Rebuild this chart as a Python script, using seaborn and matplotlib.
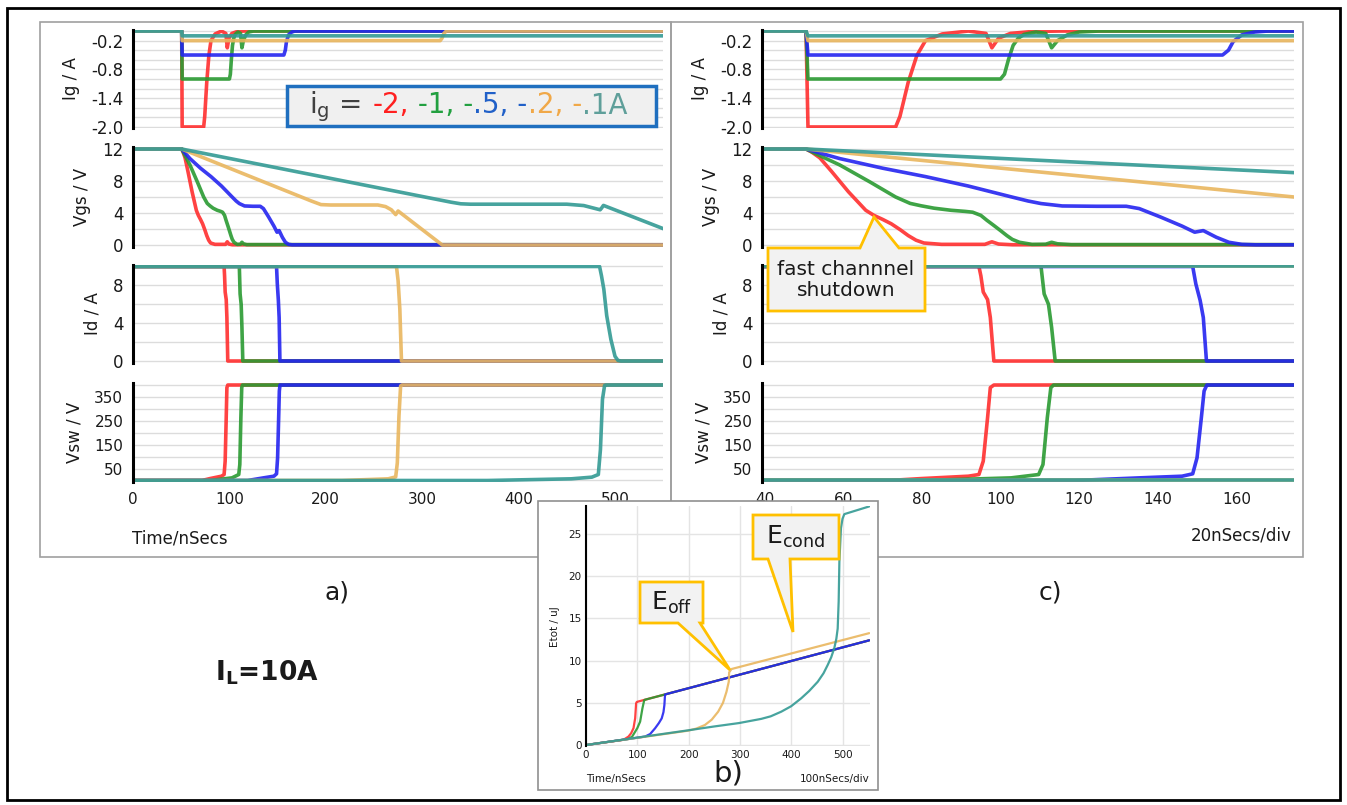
import numpy as np
import pandas as pd
import matplotlib
matplotlib.use("Agg")
import matplotlib.pyplot as plt
import seaborn as sns
from matplotlib.patches import Rectangle, Polygon
from matplotlib.offsetbox import TextArea, HPacker, AnchoredOffsetbox

sns.set_style("white")
plt.rcParams["font.family"] = ["DejaVu Sans"]
plt.rcParams["mathtext.fontset"] = "dejavusans"

# ---------------- data ----------------
SERIES = ["-2A", "-1A", "-.5A", "-.2A", "-.1A"]
COLORS = ["#ff2e2e", "#2a9a32", "#2424f0", "#e9b65e", "#339a94"]

# gate current Ig (A) : (time ns, value)
ig_red = [(0, 0), (50.5, 0), (51, -2.0), (73.3, -2.0), (74.4, -1.78), (76.5, -1.07), (78.7, -0.51),
          (80.9, -0.2), (85.2, -0.06), (91.8, 0), (96.3, -0.05), (97.8, -0.35), (99.5, -0.15),
          (102.5, -0.05), (108, -0.01), (115, 0), (560, 0)]
ig_green = [(0, 0), (50.5, 0), (51, -1.0), (100, -1.0), (101, -0.9), (102, -0.6), (103.2, -0.3),
            (104.5, -0.15), (106, -0.07), (109, -0.02), (111.5, -0.05), (113, -0.35), (114.5, -0.2),
            (117, -0.08), (120, -0.02), (125, 0), (560, 0)]
ig_blue = [(0, 0), (50.5, 0), (51, -0.5), (156.5, -0.5), (158, -0.4), (159.2, -0.22), (161.4, -0.08),
           (164.7, -0.02), (168, 0), (560, 0)]
ig_orange = [(0, 0), (50.5, 0), (51, -0.2), (318.7, -0.2), (320.5, -0.15), (322.5, -0.05), (325, 0), (560, 0)]
ig_teal = [(0, 0), (50.5, 0), (51, -0.1), (560, -0.1)]

# gate voltage Vgs (V)
vgs_red = [(0, 12), (50.5, 12), (52, 11.6), (54, 10.9), (57, 9.2), (61.3, 6.65), (65.7, 4.34), (67.8, 3.7),
           (70, 3.2), (72.2, 2.65), (74.5, 1.9), (76.5, 1.18), (78.5, 0.6), (80.5, 0.25), (85, 0.08),
           (96, 0.08), (97.8, 0.4), (99.5, 0.12), (103, 0.03), (560, 0.03)]
vgs_green = [(0, 12), (50.5, 12), (53, 11.4), (59.1, 10.0), (66.7, 7.9), (73.3, 6.0), (77, 5.2), (79.8, 4.9),
             (83.1, 4.6), (87.4, 4.34), (91, 4.2), (92.9, 4.1), (95, 3.7), (96.5, 3.1), (98.3, 2.44),
             (100, 1.8), (101.6, 1.18), (103, 0.7), (104.8, 0.34), (108, 0.08), (111.5, 0.1), (113, 0.34),
             (114.5, 0.15), (118, 0.05), (560, 0.03)]
vgs_blue = [(0, 12), (50.5, 12), (54, 11.5), (59.1, 10.8), (70, 9.6), (80.9, 8.55), (91.8, 7.37), (102.7, 6.02),
            (107, 5.5), (110.3, 5.18), (115.7, 4.88), (124.4, 4.84), (132, 4.84), (135.3, 4.55), (140.7, 3.5),
            (146.2, 2.36), (149.4, 1.6), (151.6, 1.8), (154.9, 0.97), (158.1, 0.34), (161.4, 0.08),
            (165, 0.02), (560, 0.02)]
vgs_orange = [(0, 12), (50.5, 12), (185, 5.5), (195, 5.05), (205, 5.0), (254, 5.0), (262, 4.8), (268, 4.4),
              (272.5, 3.8), (275, 4.25), (320.8, 0), (560, 0)]
vgs_teal = [(0, 12), (50.5, 12), (330, 5.35), (340, 5.15), (350, 5.1), (450, 5.1), (467.6, 4.93),
            (484.6, 4.4), (486, 4.6), (488, 4.95), (551.8, 1.96)]

# drain current Id (A)
id_red = [(0, 10), (94.5, 10), (95, 9.0), (95.6, 7.3), (96.7, 6.5), (97.4, 4.6), (98.3, 0), (560, 0)]
id_green = [(0, 10), (110.3, 10), (111.1, 7.1), (112.2, 6.0), (113, 3.55), (113.9, 0), (560, 0)]
id_blue = [(0, 10), (148.9, 10), (149.7, 8.15), (150.8, 6.4), (151.6, 4.6), (152.4, 0), (560, 0)]
id_orange = [(0, 10), (273.3, 10), (275, 8.5), (276.8, 5.5), (278.5, 0), (560, 0)]
id_teal = [(0, 10), (484, 10), (486, 9.0), (488.4, 7.6), (491.4, 4.8), (495.7, 2.3), (500, 0.5),
           (503, 0.07), (506, 0), (560, 0)]

# switch node voltage Vsw (V)
vsw_red = [(0, 0), (71.6, 0), (79.8, 8), (91.8, 18), (94.5, 25), (95.6, 81), (96.7, 263), (97.4, 389),
           (98.3, 400), (560, 400)]
vsw_green = [(0, 0), (79.8, 0), (91.8, 5.6), (102.7, 11), (109.7, 25), (110.8, 67), (111.9, 263),
             (112.8, 389), (113.5, 400), (560, 400)]
vsw_blue = [(0, 0), (119, 0), (135.3, 11), (146.2, 18), (148.9, 28), (150, 95), (151.1, 263), (151.8, 375),
            (152.5, 400), (560, 400)]
vsw_orange = [(0, 0), (217, 0), (264.7, 7), (272.5, 15), (274.2, 74), (275.9, 270), (277.6, 396), (279, 400),
              (560, 400)]
vsw_teal = [(0, 0), (368, 0), (454.7, 7), (476, 14), (482.7, 25), (484.9, 130), (487, 340), (489.2, 398),
            (490.5, 400), (560, 400)]

# total energy Etot (uJ)
e_red = [(0, 0), (73, 0.62), (82.8, 1.0), (88, 1.4), (92.6, 2.0), (95.8, 3.16), (97.7, 4.94), (99, 5.1),
         (101, 5.14), (552, 12.4)]
e_green = [(0, 0), (83, 0.72), (90, 1.0), (95.8, 1.58), (100, 2.0), (105.5, 2.77), (110, 4.35), (113.3, 5.26),
           (114, 5.35), (552, 12.4)]
e_blue = [(0, 0), (115, 1.0), (125, 1.3), (134.6, 1.98), (142, 2.6), (147.6, 3.16), (151, 3.9), (152.8, 4.74),
          (154, 5.93), (154.5, 6.0), (552, 12.4)]
e_orange = [(0, 0), (199, 1.7), (215, 1.95), (231.7, 2.37), (245, 3.0), (257.6, 3.95), (267, 5.0),
            (273.8, 6.3), (278.3, 7.5), (279, 8.6), (283.5, 9.0), (552, 13.25)]
e_teal = [(0, 0), (100, 0.88), (200, 1.75), (250, 2.2), (298, 2.6), (341.7, 3.1), (360, 3.4), (380.6, 3.95),
          (400, 4.6), (419.4, 5.53), (435, 6.4), (451.8, 7.5), (463, 8.5), (471.2, 9.49), (478, 10.4),
          (484.1, 11.5), (488, 12.6), (490.6, 13.8), (492.5, 17), (493.9, 21.7), (497, 25.7), (500, 26.8),
          (503.6, 27.35), (552, 28.26)]

IG = [ig_red, ig_green, ig_blue, ig_orange, ig_teal]
VGS = [vgs_red, vgs_green, vgs_blue, vgs_orange, vgs_teal]
ID = [id_red, id_green, id_blue, id_orange, id_teal]
VSW = [vsw_red, vsw_green, vsw_blue, vsw_orange, vsw_teal]
ETOT = [e_red, e_green, e_blue, e_orange, e_teal]

# ---------------- figure ----------------
W, H = 1347, 805
fig = plt.figure(figsize=(W / 100, H / 100), dpi=100)
INK = "#1a1a1a"


def px_axes(l, t, r, b, z):
    ax = fig.add_axes([l / W, 1 - b / H, (r - l) / W, (b - t) / H], zorder=z)
    ax.set_facecolor("none")
    return ax


def overlay(z):
    ax = fig.add_axes([0, 0, 1, 1], zorder=z)
    ax.set_xlim(0, W)
    ax.set_ylim(H, 0)
    ax.axis("off")
    ax.set_facecolor("none")
    return ax


def to_df(curves):
    rows = []
    for name, pts in zip(SERIES, curves):
        for t, v in pts:
            rows.append((name, t, v))
    return pd.DataFrame(rows, columns=["series", "t", "v"])


def draw(ax, curves, lw, alpha):
    sns.lineplot(data=to_df(curves), x="t", y="v", hue="series", hue_order=SERIES, palette=COLORS,
                 estimator=None, sort=False, lw=lw, alpha=alpha, legend=False, ax=ax)
    ax.set_xlabel("")
    ax.set_ylabel("")


def style(ax, lw_spine=2.2):
    for s in ["top", "right", "bottom"]:
        ax.spines[s].set_visible(False)
    ax.spines["left"].set_color("black")
    ax.spines["left"].set_linewidth(lw_spine)
    ax.set_axisbelow(True)


bg = overlay(0)
# outer border and panel frames
bg.add_patch(Rectangle((7, 8), 1333, 792, fill=False, ec="black", lw=2))
bg.add_patch(Rectangle((40, 22), 631, 535, fill=False, ec="#a0a0a0", lw=1.2))
bg.add_patch(Rectangle((671, 22), 632, 535, fill=False, ec="#a0a0a0", lw=1.2))
bg.text(132, 538, "Time/nSecs", fontsize=12, color=INK, ha="left", va="center")
bg.text(1292, 535, "20nSecs/div", fontsize=12, color=INK, ha="right", va="center")
bg.text(337, 592, "a)", fontsize=18, color=INK, ha="center", va="center")
bg.text(1050, 592, "c)", fontsize=18, color=INK, ha="center", va="center")
bg.text(267, 673, r"$\mathbf{I_L}$=10A", fontsize=19, fontweight="bold", color=INK, ha="center", va="center")

ROWS = [
    (IG, (-2.03, 0.03), [-0.2, -0.8, -1.4, -2.0], ["-0.2", "-0.8", "-1.4", "-2.0"],
     np.arange(-2.0, 0.01, 0.2), "Ig / A", 29.6, 128.4, 12),
    (VGS, (-0.25, 12.25), [0, 4, 8, 12], ["0", "4", "8", "12"], np.arange(0, 12.1, 2), "Vgs / V", 147, 247, 12),
    (ID, (-0.2, 10.2), [0, 4, 8], ["0", "4", "8"], np.arange(0, 10.1, 2), "Id / A", 264.6, 362.9, 12),
    (VSW, (-8, 408), [50, 150, 250, 350], ["50", "150", "250", "350"], np.arange(0, 401, 50), "Vsw / V",
     383.1, 482.4, 11),
]

PANELS = [
    (133, 663.2, (0, 550), [0, 100, 200, 300, 400, 500], [100, 200, 300, 400, 500]),
    (762, 1293.7, (39.3, 174.6), [40, 60, 80, 100, 120, 140, 160], [60, 80, 100, 120, 140, 160]),
]

for (left, right, xlim, xticks, xgrid) in PANELS:
    for i, (curves, ylim, yt, ytl, ymin, ylab, top, bot, tsize) in enumerate(ROWS):
        ax = px_axes(left, top, right, bot, 1)
        draw(ax, curves, 2.6, 0.9)
        ax.set_xlim(*xlim)
        ax.set_ylim(*ylim)
        style(ax)
        ax.set_yticks(yt, ytl)
        ax.set_yticks(ymin, minor=True)
        ax.set_xticks(xgrid, minor=True)
        ax.set_xticks(xticks)
        ax.grid(False)
        ax.yaxis.grid(True, which="both", color="#dcdcdc", lw=1.0)
        ax.xaxis.grid(True, which="minor", color="#c4c4c4", lw=1.0)
        ax.tick_params(axis="both", which="both", length=0, pad=7, colors=INK)
        ax.tick_params(axis="y", labelsize=tsize)
        ax.tick_params(axis="x", labelsize=11)
        ax.set_ylabel(ylab, fontsize=12, color=INK, labelpad=8)
        if i < 3:
            ax.tick_params(axis="x", labelbottom=False)

# ---------------- overlay 1: legend box, callout, b frame ----------------
ov1 = overlay(2)
ov1.add_patch(Rectangle((287, 86), 369, 40, fc="#f0f0f0", ec="#1f6fbf", lw=2.5))
NB = "\u00a0"
parts = [("i$_\\mathregular{g}$" + NB + "=" + NB + NB, "#404040"), ("-2,", "#ff2020"),
         (NB + "-1," + NB + "-", "#22a040"), (".5," + NB + "-", "#2060c8"),
         (".2," + NB + "-", "#f0a848"), (".1A", "#5f9f9a")]
hp = HPacker(children=[TextArea(s, textprops=dict(color=c, fontsize=20)) for s, c in parts],
             align="baseline", pad=0, sep=0)
ab = AnchoredOffsetbox(loc="center", child=hp, pad=0, borderpad=0, frameon=False,
                       bbox_to_anchor=(468 / W, 1 - 107 / H), bbox_transform=fig.transFigure)
ov1.add_artist(ab)


def callout(ax, box, base, tip, side):
    x0, y0, x1, y1 = box
    b0, b1 = base
    if side == "top":
        verts = [(x0, y0), (b0, y0), tip, (b1, y0), (x1, y0), (x1, y1), (x0, y1)]
    else:
        verts = [(x0, y0), (x1, y0), (x1, y1), (b1, y1), tip, (b0, y1), (x0, y1)]
    ax.add_patch(Polygon(verts, closed=True, fc="#f2f2f2", ec="#ffc000", lw=2, joinstyle="miter"))


callout(ov1, (768, 248, 925, 311), (860, 899), (874, 217), "top")
ov1.text(846, 280, "fast channnel\nshutdown", fontsize=14.5, color=INK, ha="center", va="center",
         linespacing=1.15)
ov1.add_patch(Rectangle((538, 501), 340, 289, fc="white", ec="#909090", lw=1.2))

# ---------------- panel b ----------------
axb = px_axes(586, 506.1, 869.7, 746.3, 3)
draw(axb, ETOT, 1.6, 0.9)
axb.set_xlim(0, 553)
axb.set_ylim(-0.15, 28.3)
style(axb, 1.5)
axb.set_xticks([0, 100, 200, 300, 400, 500])
axb.set_yticks([0, 5, 10, 15, 20, 25])
axb.grid(True, color="#e4e4e4", lw=1.0)
axb.tick_params(axis="both", length=0, labelsize=7.5, pad=3, colors=INK)
axb.set_ylabel("Etot / uJ", fontsize=7.5, color=INK, labelpad=6)

ov2 = overlay(4)
ov2.text(586, 779, "Time/nSecs", fontsize=7.5, color=INK, ha="left", va="center")
ov2.text(870, 779, "100nSecs/div", fontsize=7.5, color=INK, ha="right", va="center")
ov2.text(728, 773, "b)", fontsize=21, color=INK, ha="center", va="center")
callout(ov2, (640, 582, 703, 623), (678, 700), (730, 670), "bottom")
ov2.text(672, 603, r"E$_\mathregular{off}$", fontsize=18, color=INK, ha="center", va="center")
callout(ov2, (753, 515, 839, 559), (768, 790), (793, 632), "bottom")
ov2.text(796, 537, r"E$_\mathregular{cond}$", fontsize=18, color=INK, ha="center", va="center")

fig.savefig("out.png", dpi=100)
